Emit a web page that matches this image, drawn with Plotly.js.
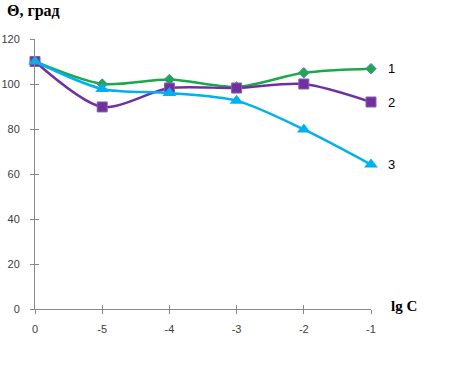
<!DOCTYPE html>
<html><head><meta charset="utf-8">
<script src="https://cdn.plot.ly/plotly-3.0.1.min.js"></script>
<style>html,body{margin:0;padding:0;background:#fff}#chart{width:472px;height:385px}</style>
</head><body><div id="chart"></div>
<script>
const categories = ["0", "-5", "-4", "-3", "-2", "-1"];
const series1 = [110, 100, 102, 98.7, 105, 106.8];
const series2 = [110, 89.8, 98.2, 98.2, 100, 92];
const series3 = [110, 97.8, 96, 92.6, 79.8, 64.2];
const seriesLabels = ["1", "2", "3"];
const yTicks = [0, 20, 40, 60, 80, 100, 120];

const xIdx = categories.map((_, i) => i);
const tickFont = {family: "Liberation Sans, Arial, sans-serif", size: 11, color: "#404040"};

const traces = [
  {x: xIdx, y: series1, mode: "lines+markers", line: {shape: "spline", smoothing: 0.8, color: "#1aa84a", width: 2.5},
   marker: {symbol: "diamond", size: 8, color: "#21a84a", line: {color: "#4f81bd", width: 1}}, cliponaxis: false},
  {x: xIdx, y: series2, mode: "lines+markers", line: {shape: "spline", smoothing: 0.8, color: "#7030a0", width: 2.5},
   marker: {symbol: "square", size: 10, color: "#7030a0", line: {color: "#8064a2", width: 1}}, cliponaxis: false},
  {x: xIdx, y: series3, mode: "lines+markers", line: {shape: "spline", smoothing: 0.8, color: "#00b0f0", width: 2.5},
   marker: {symbol: "triangle-up", size: 12, color: "#00b0f0"}, cliponaxis: false}
];

const last = [series1, series2, series3].map(s => s[s.length - 1]);
const annotations = seriesLabels.map((t, i) => ({
  x: xIdx[xIdx.length - 1], y: last[i], xref: "x", yref: "y", text: t, showarrow: false,
  xshift: 20, font: {family: "Liberation Sans, Arial, sans-serif", size: 13, color: "#000"}
}));
annotations.push({x: -0.09, y: 1.105, xref: "paper", yref: "paper", xanchor: "left", yanchor: "middle", text: "<b>Θ, град</b>",
  showarrow: false, font: {family: "Liberation Serif, Times New Roman, serif", size: 16, color: "#000"}});
annotations.push({xref: "paper", yref: "paper", x: 1, y: 0, xanchor: "left", yanchor: "middle", xshift: 18, yshift: 3,
  text: "<b>lg C</b>", showarrow: false, font: {family: "Liberation Serif, Times New Roman, serif", size: 15, color: "#000"}});

const layout = {
  width: 472, height: 385,
  margin: {l: 35, r: 101, t: 39, b: 76},
  paper_bgcolor: "#fff", plot_bgcolor: "#fff",
  showlegend: false,
  xaxis: {range: [0, 5], tickmode: "array", tickvals: xIdx, ticktext: categories, showgrid: false, zeroline: false,
    showline: true, linecolor: "#888", linewidth: 1, ticks: "outside", ticklen: 4, tickcolor: "#888",
    tickfont: tickFont, ticklabelstandoff: 6},
  xaxis2: {range: [0, 5], overlaying: "x", anchor: "y2", side: "bottom", tickmode: "array", tickvals: xIdx,
    showticklabels: false, showgrid: false, zeroline: false, showline: false, ticks: "inside", ticklen: 4, tickcolor: "#888"},
  yaxis: {range: [0, 120], tickmode: "array", tickvals: yTicks, showgrid: false, zeroline: false,
    showline: true, linecolor: "#888", linewidth: 1, ticks: "outside", ticklen: 4, tickcolor: "#888",
    tickfont: tickFont, ticklabelstandoff: 8},
  yaxis2: {range: [0, 120], overlaying: "y", anchor: "x2", side: "left", tickmode: "array", tickvals: yTicks,
    showticklabels: false, showgrid: false, zeroline: false, showline: false, ticks: "inside", ticklen: 4, tickcolor: "#888"},
  annotations: annotations
};
traces.push({x: [0], y: [0], xaxis: "x2", yaxis: "y2", mode: "markers", marker: {opacity: 0}, hoverinfo: "skip"});
Plotly.newPlot("chart", traces, layout, {staticPlot: true});
</script></body></html>
